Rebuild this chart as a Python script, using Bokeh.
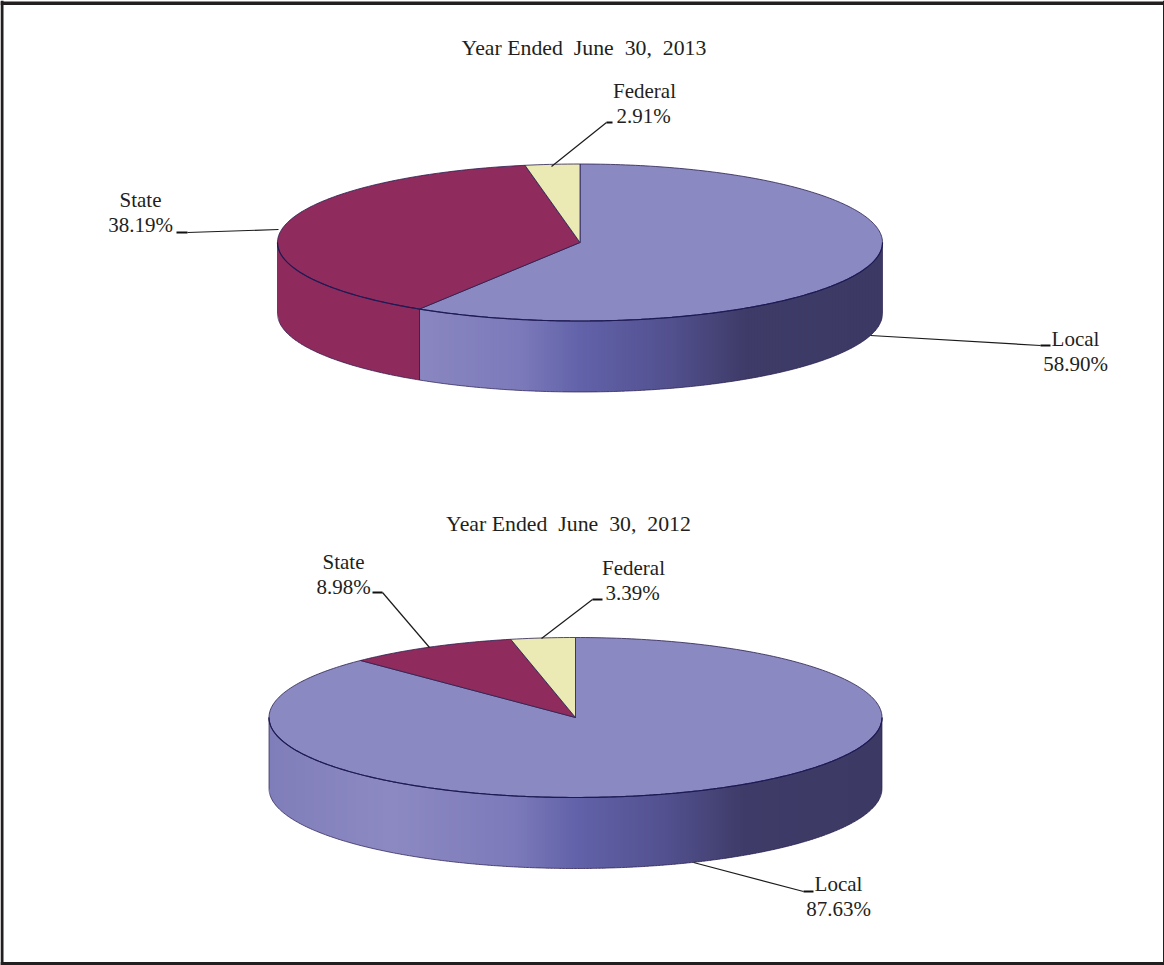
from bokeh.plotting import figure
from bokeh.embed import file_html
from bokeh.resources import INLINE
from bokeh.models import Range1d
from bokeh.core.properties import value
import numpy as np

W, H = 1164, 965

# Revenue shares, clockwise from twelve o'clock
shares_2013 = [58.90, 38.19, 2.91]
shares_2012 = [87.63, 8.98, 3.39]
sources = ["Local", "State", "Federal"]
titles = ["Year Ended June 30, 2013", "Year Ended June 30, 2012"]

TOP = {"Local": "#8b89c1", "State": "#8f2b5d", "Federal": "#ebe9b4"}
EDGE = "#2a1f50"
FONT = "Liberation Serif"

# (center x, center y, radius x, radius y, wall height)
DISC_2013 = (579.5, 242, 302.5, 78.5, 71)
DISC_2012 = (575, 717, 306.5, 80, 71)

# Wall shading stops: position across the disc (-1..1) and colour
SHADE_POS = [-1.0, -0.6, -0.2, 0.0, 0.3, 0.55, 1.0]
SHADE_LOCAL = [(128, 126, 186), (140, 137, 194), (124, 122, 186), (98, 98, 170),
               (82, 80, 142), (62, 59, 104), (60, 57, 100)]
SHADE_STATE = [(142, 42, 92), (142, 42, 92), (136, 44, 88), (134, 44, 88),
               (134, 44, 88), (134, 44, 88), (134, 44, 88)]
SHADE_FED = [(235, 233, 180)] * 7

p = figure(width=W, height=H, x_range=Range1d(0, W), y_range=Range1d(H, 0),
           output_backend="svg", toolbar_location=None, min_border=0,
           outline_line_color=None, background_fill_color="white")
p.axis.visible = False
p.grid.visible = False


def shade(stops, t):
    c = [np.interp(t, SHADE_POS, [s[i] for s in stops]) for i in range(3)]
    return "#%02x%02x%02x" % tuple(int(round(v)) for v in c)


def draw_disc(shares, disc):
    cx, cy, rx, ry, depth = disc
    edges = np.cumsum([0] + shares) / sum(shares) * 2 * np.pi
    stops = {"Local": SHADE_LOCAL, "State": SHADE_STATE, "Federal": SHADE_FED}

    # Wall: vertical bands of equal width, painted left to right so each
    # overlaps its neighbour and no seams show between them
    rim = lambda x: cy + ry * np.sqrt(np.clip(1 - ((x - cx) / rx) ** 2, 0, 1))
    breaks = [cx + rx * np.sin(e) for e in edges if np.pi / 2 < e < 3 * np.pi / 2]
    grid = np.unique(np.r_[np.arange(cx - rx, cx + rx, 3.0), cx + rx, breaks])
    for x0, x1 in zip(grid[:-1], grid[1:]):
        mid = (x0 + x1) / 2
        ang = np.pi - np.arcsin((mid - cx) / rx)
        idx = min(int(np.searchsorted(edges, ang, side="right") - 1), 2)
        col = shade(stops[sources[idx]], (mid - cx) / rx)
        xr = min(x1 + 1.0, cx + rx)
        xe = np.linspace(x0, xr, 4)
        xs = np.r_[x0, xr, xe[::-1]]
        ys = np.r_[cy, cy, rim(xe[::-1]) + depth]
        p.patch(xs, ys, fill_color=col, line_color=None)

    # Outline of the wall's lower edge and its side verticals
    t = np.linspace(np.pi / 2, 3 * np.pi / 2, 240)
    p.line(cx + rx * np.sin(t), cy - ry * np.cos(t) + depth, line_color=EDGE, line_width=0.7)
    p.segment([cx - rx, cx + rx], [cy, cy], [cx - rx, cx + rx], [cy + depth, cy + depth],
              line_color=EDGE, line_width=0.7)

    # Slice boundary carried down the wall where it faces the viewer
    for e in edges[1:-1]:
        if np.pi / 2 < e < 3 * np.pi / 2:
            x = cx + rx * np.sin(e)
            y = cy - ry * np.cos(e)
            p.segment([x], [y], [x], [y + depth], line_color=EDGE, line_width=0.9)

    # Top face slices
    for name, a0, a1 in zip(sources, edges[:-1], edges[1:]):
        a = np.linspace(a0, a1, max(int((a1 - a0) * 60), 8))
        px = np.r_[cx, cx + rx * np.sin(a)]
        py = np.r_[cy, cy - ry * np.cos(a)]
        p.patch(px, py, fill_color=TOP[name], line_color=EDGE, line_width=0.8)

    # Heavier front rim of the top face
    p.line(cx + rx * np.sin(t), cy - ry * np.cos(t), line_color="#1d1a55", line_width=1.2)


def draw_leader(xs, ys):
    # Thin run from the disc to the elbow, then a short heavy tick by the label
    p.line(xs[:2], ys[:2], line_color="#1c1a1a", line_width=1.2)
    p.line(xs[1:], ys[1:], line_color="#111111", line_width=2.0)


def label(x, y, text, size="21px"):
    p.text([x], [y], text=[text], text_font=value(FONT), text_font_size=value(size),
           text_color="#231f20", text_align="center", text_baseline="middle")


draw_disc(shares_2013, DISC_2013)
draw_disc(shares_2012, DISC_2012)

for xs, ys in [([551, 606, 612], [166, 122, 122]),
               ([278, 187, 176], [229, 232, 232]),
               ([870, 1040, 1050], [335, 345, 345]),
               ([429, 382, 372], [647, 592, 592]),
               ([541, 592, 602], [638, 599, 599]),
               ([693, 803, 813], [862, 891, 891])]:
    draw_leader(xs, ys)


def spaced(title):
    # Wider gaps after the first pair of words
    head, tail = title.split(" ", 2)[:2], title.split(" ", 2)[2]
    return " ".join(head) + " \u00a0" + tail.replace(" ", " \u00a0")


label(583.5, 47.5, spaced(titles[0]), size="21.8px")
label(568, 523.5, spaced(titles[1]), size="21.8px")

for (x, y, s) in [(644, 90, "Federal"), (643, 115.5, f"{shares_2013[2]:.2f}%"),
                  (140, 199.5, "State"), (140, 224.5, f"{shares_2013[1]:.2f}%"),
                  (1075, 338.5, "Local"), (1075, 363.5, f"{shares_2013[0]:.2f}%"),
                  (343, 561.5, "State"), (343, 586.5, f"{shares_2012[1]:.2f}%"),
                  (633, 567.5, "Federal"), (632, 592.5, f"{shares_2012[2]:.2f}%"),
                  (838, 883.5, "Local"), (838, 908.5, f"{shares_2012[0]:.2f}%")]:
    label(x, y, s)

# Page frame
FR = "#231f20"
p.quad(left=[0, 0, 0, W - 1.5], right=[W, W, 3, W], top=[1, H - 3.5, 0, 0], bottom=[4.5, H, H, H],
       fill_color=FR, line_color=None)

open("out.html", "w").write(file_html(p, INLINE))
